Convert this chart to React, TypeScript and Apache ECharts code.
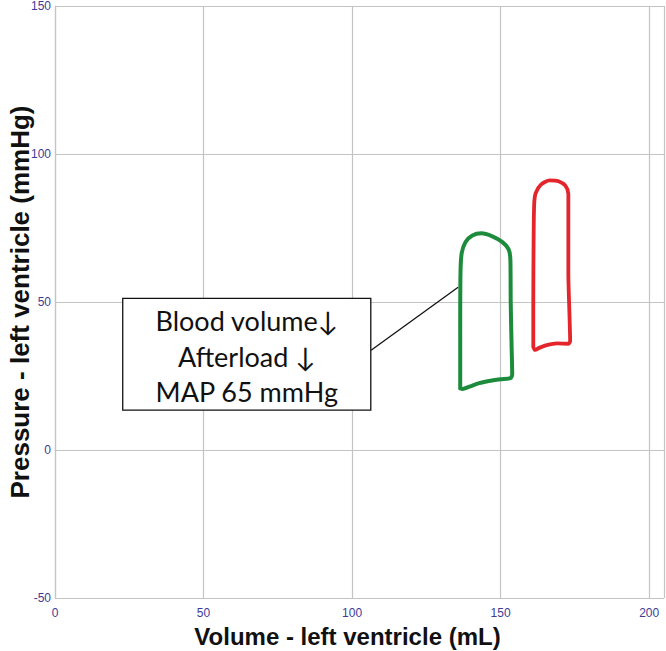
import React, { useEffect, useRef } from "react";
import * as echarts from "echarts";

// Volume (mL), pressure (mmHg) points of each pressure-volume loop
const greenLoopVolume = [136.4, 136.4, 136.5, 136.9, 138.2, 140.5, 143.5, 147.2, 150.5, 152.7, 153.3, 153.4, 153.7, 153.9, 153.3, 150.0, 146.0, 142.5, 139.5, 137.2, 136.4];
const greenLoopPressure = [20.8, 40.0, 60.0, 66.5, 70.3, 72.5, 73.2, 72.2, 70.3, 67.8, 64.0, 50.0, 35.0, 25.5, 24.3, 23.9, 23.3, 22.5, 21.4, 20.6, 20.8];

const redLoopVolume = [161.0, 161.0, 161.1, 161.3, 161.8, 163.5, 166.5, 169.5, 171.8, 172.8, 172.8, 172.8, 173.2, 173.4, 172.8, 169.0, 165.5, 163.0, 161.6, 161.0];
const redLoopPressure = [34.8, 50.0, 70.0, 83.0, 86.8, 89.6, 91.1, 90.8, 89.3, 86.5, 80.0, 60.0, 45.0, 36.8, 35.9, 36.0, 35.4, 34.5, 33.8, 34.8];

// Connector from annotation box to the green loop
const connectorVolume = [106.4, 135.7];
const connectorPressure = [33.7, 55.0];

const annotationLines = ["Blood volume↓", "Afterload ↓", "MAP 65 mmHg"];

const xTicks = [0, 50, 100, 150, 200];
const yTicks = [-50, 0, 50, 100, 150];

const xTitle = "Volume - left ventricle (mL)";
const yTitle = "Pressure - left ventricle (mmHg)";

function zip(a: number[], b: number[]) {
  return a.map((v, i) => [v, b[i]]);
}

export default function App() {
  const ref = useRef<HTMLDivElement>(null);
  useEffect(() => {
    if (!ref.current) return;
    const chart = echarts.init(ref.current, undefined, { renderer: "svg" });
    const gridColor = "#c4c4c4";
    const labelColor = "#3c3c96";
    chart.setOption({
      animation: false,
      backgroundColor: "#ffffff",
      grid: { left: 55, top: 6, right: 2, bottom: 53, containLabel: false, outerBoundsMode: "none" },
      xAxis: {
        type: "value",
        min: 0,
        max: 205,
        interval: 50,
        name: xTitle,
        nameLocation: "middle",
        nameGap: 26,
        nameMoveOverlap: false,
        nameTextStyle: { fontFamily: "Liberation Sans", fontSize: 24, fontWeight: "bold", color: "#111", padding: [0, 24, 0, 0] },
        axisLine: { show: true, lineStyle: { color: gridColor, width: 1.2 } },
        axisTick: { show: false },
        splitLine: { show: true, lineStyle: { color: gridColor, width: 1.2 } },
        axisLabel: {
          margin: 9,
          fontFamily: "Liberation Sans",
          fontSize: 12,
          color: labelColor,
          showMaxLabel: false,
          formatter: (v: number) => (xTicks.includes(v) ? String(v) : ""),
        },
      },
      yAxis: {
        type: "value",
        min: -50,
        max: 150,
        interval: 50,
        name: yTitle,
        nameLocation: "middle",
        nameGap: 22,
        nameMoveOverlap: false,
        nameTextStyle: { fontFamily: "Liberation Sans", fontSize: 26, fontWeight: "bold", color: "#111" },
        axisLine: { show: true, lineStyle: { color: gridColor, width: 1.2 } },
        axisTick: { show: false },
        splitLine: { show: true, lineStyle: { color: gridColor, width: 1.2 } },
        axisLabel: {
          margin: 4,
          fontFamily: "Liberation Sans",
          fontSize: 12,
          lineHeight: 12,
          color: labelColor,
          formatter: (v: number) => (yTicks.includes(v) ? String(v) : ""),
        },
      },
      series: [
        {
          type: "line",
          data: zip(greenLoopVolume, greenLoopPressure),
          smooth: 0.25,
          showSymbol: false,
          symbol: "none",
          lineStyle: { color: "#1c8c3c", width: 4, join: "round", cap: "round" },
          z: 3,
        },
        {
          type: "line",
          data: zip(redLoopVolume, redLoopPressure),
          smooth: 0.25,
          showSymbol: false,
          symbol: "none",
          lineStyle: { color: "#e3262b", width: 3.8, join: "round", cap: "round" },
          z: 3,
        },
        {
          type: "line",
          data: zip(connectorVolume, connectorPressure),
          showSymbol: false,
          symbol: "none",
          lineStyle: { color: "#111", width: 1.3 },
          z: 2,
        },
      ],
    });

    // annotation box, positioned in data space
    const boxTopLeft = chart.convertToPixel({ gridIndex: 0 }, [22.8, 51.2]) as number[];
    const boxBottomRight = chart.convertToPixel({ gridIndex: 0 }, [106.3, 13.5]) as number[];
    const cx = (boxTopLeft[0] + boxBottomRight[0]) / 2;
    const cy = (boxTopLeft[1] + boxBottomRight[1]) / 2;
    chart.setOption({
      graphic: [
        {
          type: "rect",
          shape: {
            x: boxTopLeft[0],
            y: boxTopLeft[1],
            width: boxBottomRight[0] - boxTopLeft[0],
            height: boxBottomRight[1] - boxTopLeft[1],
          },
          style: { fill: "#ffffff", stroke: "#111", lineWidth: 1.3 },
          z: 10,
        },
        {
          type: "text",
          x: cx,
          y: cy + 2,
          style: {
            text: annotationLines.join("\n"),
            fontFamily: "Lato, 'DejaVu Sans'",
            fontSize: 27,
            lineHeight: 35.5,
            fill: "#111",
            align: "center",
            verticalAlign: "middle",
          },
          z: 11,
        },
      ],
    });
    return () => chart.dispose();
  }, []);
  return <div ref={ref} style={{ position: "fixed", left: 0, top: 0, width: 666, height: 651 }} />;
}
